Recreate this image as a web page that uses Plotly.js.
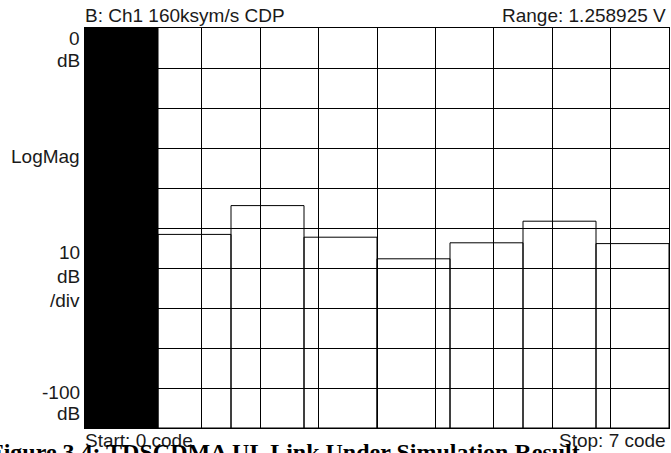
<!DOCTYPE html>
<html>
<head>
<meta charset="utf-8">
<script src="https://cdn.plot.ly/plotly-3.0.1.min.js"></script>
<style>html,body{margin:0;padding:0;background:#fff;}#chart{width:671px;height:453px;}</style>
</head>
<body>
<div id="chart"></div>
<script>
// Code domain power per code channel (dB)
const codes = [0, 1, 2, 3, 4, 5, 6, 7];
const powerDb = [0, -51.6, -44.4, -52.3, -57.7, -53.7, -48.3, -53.9];
const barFill = ['#000000', 'rgba(0,0,0,0)', 'rgba(0,0,0,0)', 'rgba(0,0,0,0)', 'rgba(0,0,0,0)', 'rgba(0,0,0,0)', 'rgba(0,0,0,0)', 'rgba(0,0,0,0)'];
const bottomDb = -100;
const topDb = 0;
const gridDivs = [0, 10];

const leftLabels = [
  {text: '0', y: 0.975},
  {text: 'dB', y: 0.918},
  {text: 'LogMag', y: 0.678},
  {text: '10', y: 0.44},
  {text: 'dB', y: 0.378},
  {text: '/div', y: 0.32},
  {text: '-100', y: 0.088},
  {text: 'dB', y: 0.037}
];
const titleLeft = 'B: Ch1 160ksym/s CDP';
const titleRight = 'Range: 1.258925 V';
const startLabel = 'Start: 0 code';
const stopLabel = 'Stop: 7 code';
const caption = 'Figure 3.4: TDSCDMA UL Link Under Simulation Result';

const txtFont = {family: 'Liberation Sans, Arial, sans-serif', size: 19, color: '#1a1a1a'};

const gridTrace = {
  type: 'scatter', mode: 'none', x: gridDivs, y: [bottomDb, bottomDb],
  xaxis: 'x', yaxis: 'y', hoverinfo: 'skip', showlegend: false
};

const trace = {
  type: 'bar',
  x: codes,
  y: powerDb.map(v => v - bottomDb),
  base: powerDb.map(() => bottomDb),
  width: 1,
  xaxis: 'x2',
  yaxis: 'y',
  marker: {color: barFill, line: {color: '#000', width: 1}},
  hoverinfo: 'skip'
};

const annotations = leftLabels.map(l => ({
  text: l.text, xref: 'paper', yref: 'paper', x: -0.005, y: l.y,
  xanchor: 'right', yanchor: 'middle', showarrow: false, font: txtFont
}));
annotations.push(
  {text: titleLeft, xref: 'paper', yref: 'paper', x: -0.004, y: 1.0, xanchor: 'left', yanchor: 'bottom', showarrow: false, font: txtFont},
  {text: titleRight, xref: 'paper', yref: 'paper', x: 0.998, y: 1.0, xanchor: 'right', yanchor: 'bottom', showarrow: false, font: txtFont},
  {text: startLabel, xref: 'paper', yref: 'paper', x: -0.004, y: 0.0, xanchor: 'left', yanchor: 'top', showarrow: false, font: txtFont},
  {text: stopLabel, xref: 'paper', yref: 'paper', x: 0.998, y: 0.0, xanchor: 'right', yanchor: 'top', showarrow: false, font: txtFont},
  {text: '<b>' + caption + '</b>', xref: 'paper', yref: 'paper', x: -0.168, y: -0.022, xanchor: 'left', yanchor: 'top', showarrow: false,
   font: {family: 'Liberation Serif, Times New Roman, serif', size: 24, color: '#000'}}
);

const layout = {
  width: 671, height: 453,
  margin: {l: 85, r: 2, t: 28, b: 25, pad: 0},
  paper_bgcolor: '#fff', plot_bgcolor: '#fff',
  showlegend: false,
  bargap: 0,
  xaxis: {range: gridDivs, dtick: 1, showgrid: true, gridcolor: '#000', gridwidth: 1,
          showticklabels: false, ticks: '', zeroline: false,
          showline: true, mirror: true, linecolor: '#000', linewidth: 1, fixedrange: true},
  xaxis2: {overlaying: 'x', range: [codes[0] - 0.5, codes[codes.length - 1] + 0.5], visible: false, fixedrange: true},
  yaxis: {range: [bottomDb, topDb], dtick: 10, showgrid: true, gridcolor: '#000', gridwidth: 1,
          showticklabels: false, ticks: '', zeroline: false,
          showline: true, mirror: true, linecolor: '#000', linewidth: 1, fixedrange: true},
  annotations: annotations
};

Plotly.newPlot('chart', [gridTrace, trace], layout, {staticPlot: true, displayModeBar: false});
</script>
</body>
</html>
